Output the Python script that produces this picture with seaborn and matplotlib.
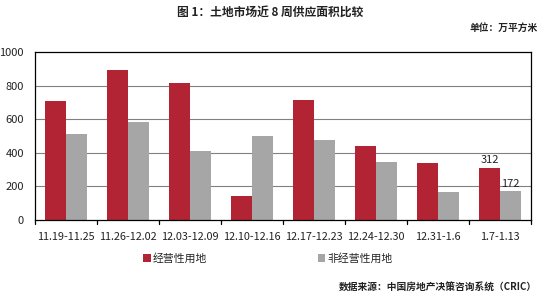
import numpy as np
import pandas as pd
import matplotlib
matplotlib.use("Agg")
import matplotlib.pyplot as plt
import seaborn as sns
from matplotlib.patches import Patch

weeks = ["11.19-11.25", "11.26-12.02", "12.03-12.09", "12.10-12.16",
         "12.17-12.23", "12.24-12.30", "12.31-1.6", "1.7-1.13"]
commercial = [708, 893, 813, 145, 712, 440, 341, 312]
noncommercial = [510, 581, 413, 500, 476, 347, 169, 172]
series_names = ["经营性用地", "非经营性用地"]
yticks = [0, 200, 400, 600, 800, 1000]

sns.set_theme(style="white")
plt.rcParams['font.family'] = ['Noto Sans CJK SC', 'DejaVu Sans']

df = pd.DataFrame({
    "week": weeks * 2,
    "value": commercial + noncommercial,
    "type": [series_names[0]] * len(weeks) + [series_names[1]] * len(weeks),
})

fig = plt.figure(figsize=(5.4, 2.98), dpi=100)
ax = fig.add_axes([0.0648, 0.262, 0.9185, 0.5635])

palette = {series_names[0]: "#B22434", series_names[1]: "#A6A6A6"}
sns.barplot(data=df, x="week", y="value", hue="type", palette=palette,
            order=weeks, hue_order=series_names, width=0.667,
            saturation=1, ax=ax, legend=False, linewidth=0)

ax.set_ylim(0, 1000)
ax.set_xlim(-0.5, len(weeks) - 0.5)
ax.set_yticks(yticks)
ax.set_yticklabels([str(v) for v in yticks], fontsize=8, color="#222222")
ax.set_xticks(range(len(weeks)))
ax.set_xticklabels(weeks, fontsize=7.8, color="#222222")
ax.set_xlabel("")
ax.set_ylabel("")
for v in yticks[1:-1]:
    ax.axhline(v, color="#808080", linewidth=0.8, zorder=0)
for s in ax.spines.values():
    s.set_color("black")
    s.set_linewidth(0.9)
ax.tick_params(axis="y", length=0, pad=8)
ax.tick_params(axis="x", length=0, pad=9)
# category separator ticks on x axis
for b in np.arange(-0.5, len(weeks), 1.0):
    ax.plot([b, b], [0, -22], color="black", linewidth=0.9, clip_on=False)

# data labels on last group
last = len(weeks) - 1
bars_c = ax.containers[0]
bars_n = ax.containers[1]
for bar, val in [(bars_c[last], commercial[last]), (bars_n[last], noncommercial[last])]:
    ax.text(bar.get_x() + bar.get_width() / 2, val + 15, str(val),
            ha="center", va="bottom", fontsize=8, color="#222222")

# legend
handles = [Patch(facecolor=palette[n], edgecolor="none") for n in series_names]
fig.legend(handles, series_names, loc="center", bbox_to_anchor=(0.496, 0.133),
           ncol=2, frameon=False, fontsize=7.8, handlelength=0.7,
           handleheight=0.7, handletextpad=0.2, columnspacing=10.2)

fig.text(0.5, 0.958, "图 1：土地市场近 8 周供应面积比较", ha="center", va="center",
         fontsize=8.5, fontweight="bold", color="#222222")
fig.text(0.995, 0.905, "单位：万平方米", ha="right", va="center",
         fontsize=7, fontweight="bold", color="#222222")
fig.text(0.995, 0.033, "数据来源：中国房地产决策咨询系统（CRIC）", ha="right", va="center",
         fontsize=7, fontweight="bold", color="#222222")

fig.savefig("out.png", dpi=100)
